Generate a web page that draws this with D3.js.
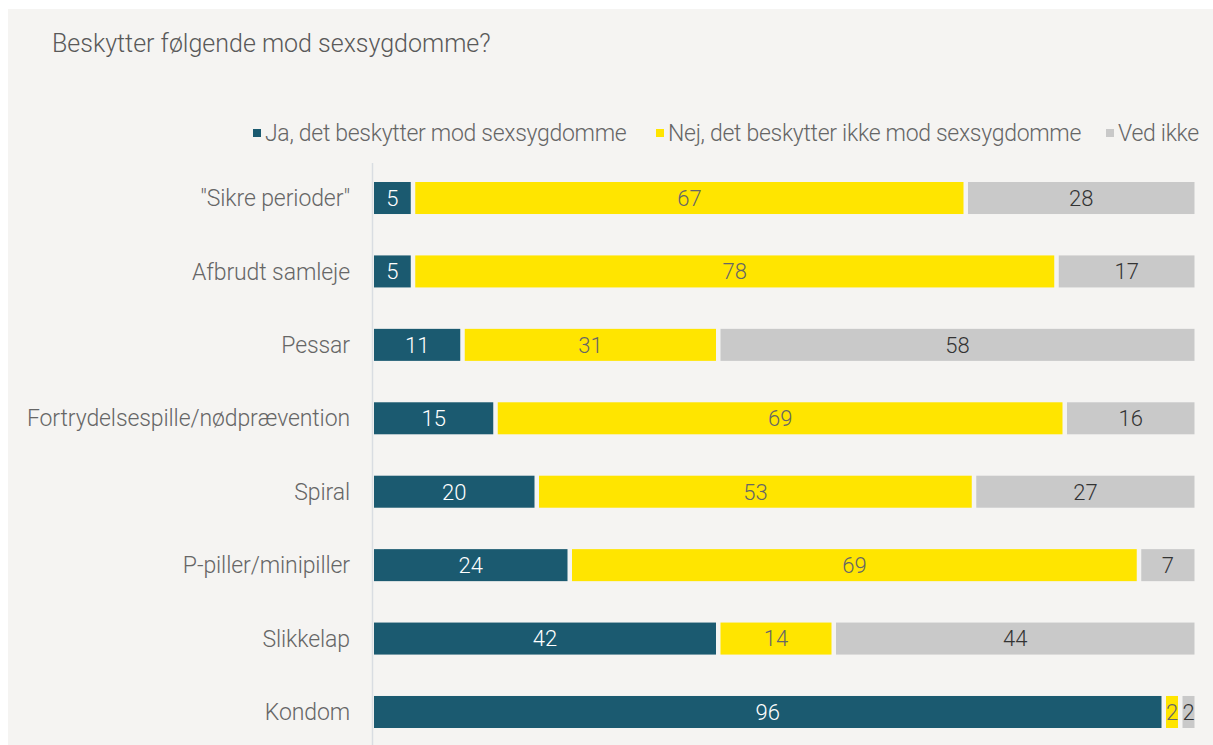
<!DOCTYPE html>
<html>
<head>
<meta charset="utf-8">
<script src="https://cdn.jsdelivr.net/npm/d3@7"></script>
<style>
  html, body { margin: 0; padding: 0; background: #ffffff; }
  svg { display: block; }
  text { font-family: Roboto, "Noto Sans", sans-serif; font-weight: 300; }
</style>
</head>
<body>
<svg id="chart" width="1213" height="745"></svg>
<script>
// Survey: which methods protect against sexually transmitted diseases (percent)
const categories = [
  '"Sikre perioder"',
  "Afbrudt samleje",
  "Pessar",
  "Fortrydelsespille/nødprævention",
  "Spiral",
  "P-piller/minipiller",
  "Slikkelap",
  "Kondom"
];
const seriesNames = [
  "Ja, det beskytter mod sexsygdomme",
  "Nej, det beskytter ikke mod sexsygdomme",
  "Ved ikke"
];
const jaValues      = [5, 5, 11, 15, 20, 24, 42, 96];
const nejValues     = [67, 78, 31, 69, 53, 69, 14, 2];
const vedIkkeValues = [28, 17, 58, 16, 27, 7, 44, 2];

const colors = ["#1b5a70", "#ffe500", "#c9c9c9"];
const labelColors = ["#ffffff", "#666666", "#333333"];

const W = 1213, H = 745;
const svg = d3.select("#chart");

// panel background
svg.append("rect").attr("x", 8).attr("y", 9).attr("width", W - 8).attr("height", H - 9)
  .attr("fill", "#f5f4f2");

// title
svg.append("text").attr("x", 52).attr("y", 52)
  .attr("font-size", 25).attr("fill", "#595959")
  .text("Beskytter følgende mod sexsygdomme?");

const rows = categories.map((c, i) => ({
  cat: c, vals: [jaValues[i], nejValues[i], vedIkkeValues[i]]
}));
const stack = d3.stack().keys([0, 1, 2]).value((d, k) => d.vals[k]);
const layers = stack(rows);

const x = d3.scaleLinear().domain([0, 100]).range([374, 1199]);
const y = d3.scaleBand().domain(categories).range([161.3, 748.7])
  .paddingInner(0.564).paddingOuter(0.282);
const gap = 4.5;

// vertical category axis line
svg.append("line").attr("x1", 372.5).attr("x2", 372.5).attr("y1", 163).attr("y2", H)
  .attr("stroke", "#d9dde2").attr("stroke-width", 1.5);

// category labels
const yAxis = d3.axisLeft(y).tickSize(0).tickPadding(0);
const gy = svg.append("g").attr("transform", "translate(350,0)").call(yAxis);
gy.select(".domain").remove();
gy.selectAll("text").attr("font-size", 23).attr("fill", "#666666")
  .style("font-family", "Roboto, sans-serif").style("font-weight", 300)
  .style("letter-spacing", "-0.1px")
  .attr("dy", "0.35em");

// stacked segments
layers.forEach((layer, k) => {
  const g = svg.append("g");
  g.selectAll("rect").data(layer).join("rect")
    .attr("x", d => x(d[0]))
    .attr("y", d => y(d.data.cat))
    .attr("width", d => Math.max(0, x(d[1]) - x(d[0]) - gap))
    .attr("height", y.bandwidth())
    .attr("fill", colors[k]);
  g.selectAll("text").data(layer).join("text")
    .attr("x", d => (x(d[0]) + x(d[1]) - gap) / 2)
    .attr("y", d => y(d.data.cat) + y.bandwidth() / 2)
    .attr("dy", "0.36em")
    .attr("text-anchor", "middle")
    .attr("font-size", 22)
    .attr("fill", labelColors[k])
    .text(d => d[1] - d[0]);
});

// legend
const legendItems = [
  { x: 253, name: seriesNames[0], c: colors[0] },
  { x: 656, name: seriesNames[1], c: colors[1] },
  { x: 1106, name: seriesNames[2], c: colors[2] }
];
const lg = svg.append("g");
legendItems.forEach(it => {
  lg.append("rect").attr("x", it.x).attr("y", 129).attr("width", 8).attr("height", 8).attr("fill", it.c);
  lg.append("text").attr("x", it.x + 12).attr("y", 133).attr("dy", "0.35em")
    .attr("font-size", 23).attr("fill", "#666666").style("letter-spacing", "-0.3px")
    .text(it.name);
});
</script>
</body>
</html>
